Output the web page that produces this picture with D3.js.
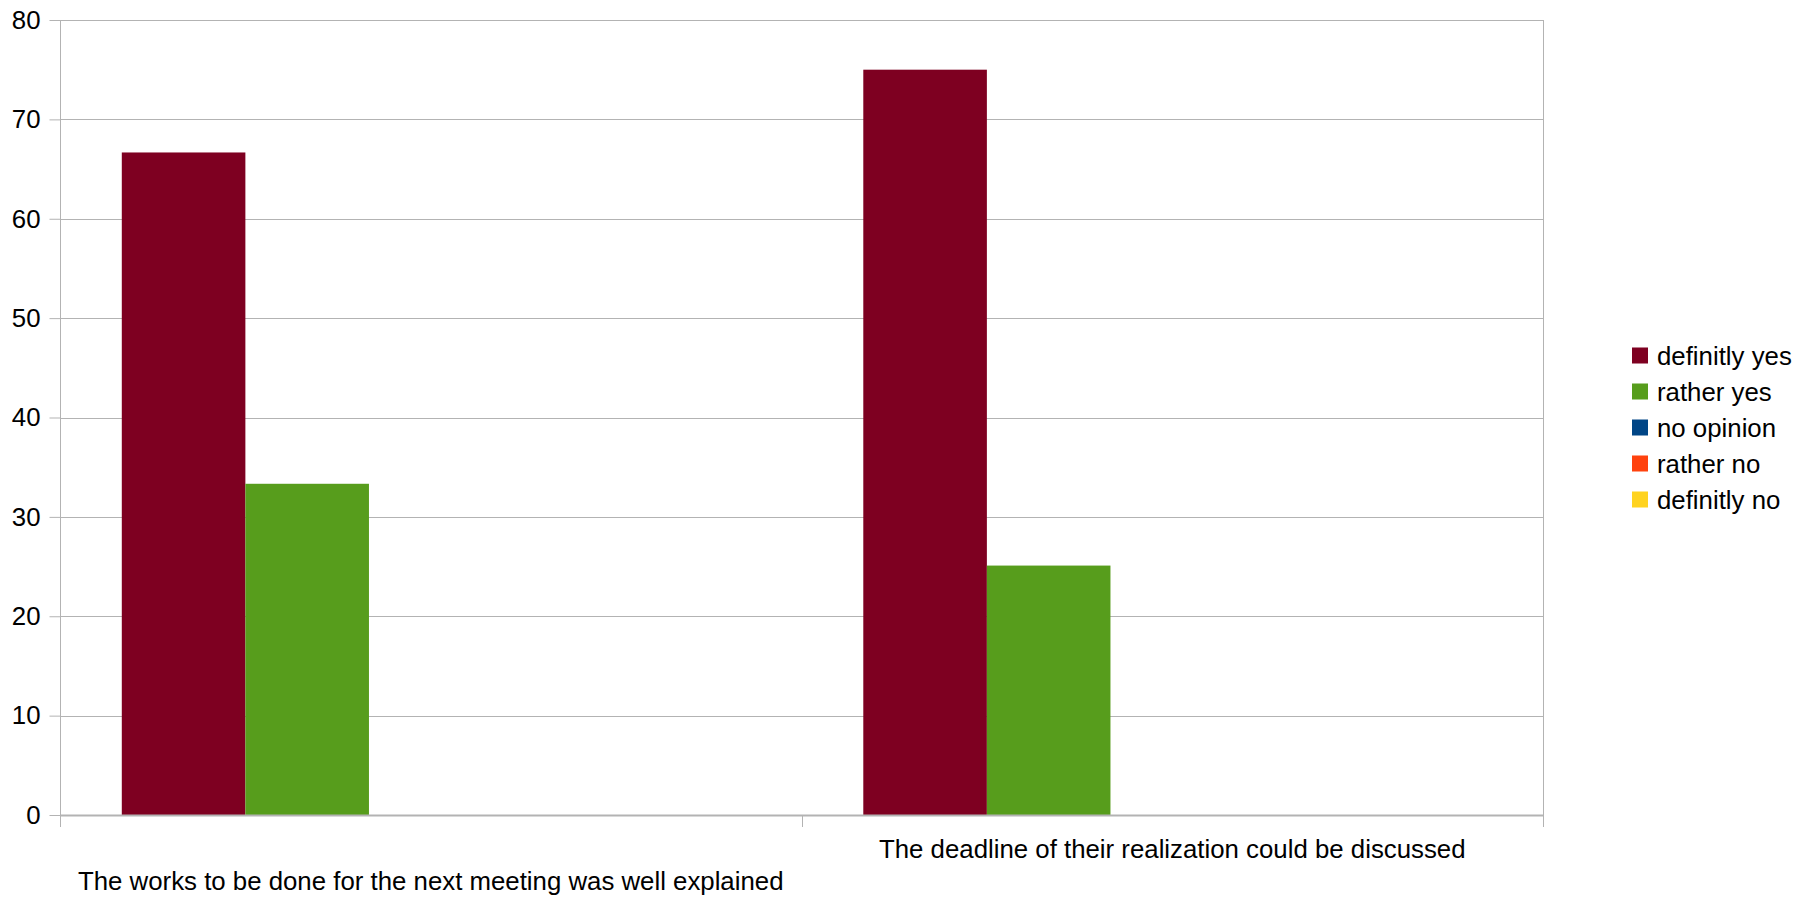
<!DOCTYPE html>
<html>
<head>
<meta charset="utf-8">
<script src="https://cdn.jsdelivr.net/npm/d3@7"></script>
<style>
html,body{margin:0;padding:0;background:#fff;}
svg{display:block;}
text{font-family:"Liberation Sans",Arial,sans-serif;fill:#000;}
</style>
</head>
<body>
<svg id="chart" width="1814" height="899"></svg>
<script>
const categories = [
  "The works to be done for the next meeting was well explained",
  "The deadline of their realization could be discussed"
];
const seriesNames = ["definitly yes", "rather yes", "no opinion", "rather no", "definitly no"];
const seriesColors = ["#7e0021", "#579d1c", "#004586", "#ff420e", "#ffd320"];
const definitlyYes = [66.67, 75];
const ratherYes = [33.33, 25.1];
const noOpinion = [0, 0];
const ratherNo = [0, 0];
const definitlyNo = [0, 0];
const yTicks = [0, 10, 20, 30, 40, 50, 60, 70, 80];

const seriesValues = [definitlyYes, ratherYes, noOpinion, ratherNo, definitlyNo];

const svg = d3.select("#chart");
const L = 60, R = 1543, T = 20, B = 815;
const grid = "#b3b3b3";
const FS = "25.8px";

const x0 = d3.scaleBand().domain(categories).range([L, R]).padding(0);
const bw = x0.bandwidth();
const x1 = d3.scaleBand().domain(seriesNames).range([bw / 12, bw * 11 / 12]).padding(0);
const y = d3.scaleLinear().domain([0, 80]).range([B, T]);
const color = d3.scaleOrdinal().domain(seriesNames).range(seriesColors);

// gridlines
svg.append("g").selectAll("line").data(yTicks).join("line")
  .attr("x1", L).attr("x2", R)
  .attr("y1", d => Math.round(y(d)) + 0.5).attr("y2", d => Math.round(y(d)) + 0.5)
  .attr("stroke", grid).attr("stroke-width", 1);

// right frame
svg.append("line").attr("x1", R + 0.5).attr("x2", R + 0.5).attr("y1", T).attr("y2", B + 12)
  .attr("stroke", grid);

// y axis
const yAxis = svg.append("g").attr("transform", `translate(${L + 0.5},0)`)
  .call(d3.axisLeft(y).tickValues(yTicks).tickSize(11).tickPadding(9).tickFormat(d3.format("d")));
yAxis.select(".domain").attr("stroke", grid).attr("d", `M0,${T}V${B + 12}`);
yAxis.selectAll(".tick line").attr("stroke", grid);
yAxis.selectAll(".tick text").style("font-size", FS).attr("fill", "#000")
  .attr("font-family", '"Liberation Sans",Arial,sans-serif');

// bars
const rows = [];
categories.forEach((c, ci) => {
  seriesNames.forEach((s, si) => rows.push({c, s, v: seriesValues[si][ci]}));
});
svg.append("g").selectAll("rect").data(rows).join("rect")
  .attr("x", d => x0(d.c) + x1(d.s))
  .attr("width", x1.bandwidth())
  .attr("y", d => y(d.v))
  .attr("height", d => y(0) - y(d.v))
  .attr("fill", d => color(d.s));

// x axis line
svg.append("line").attr("x1", L).attr("x2", R + 1).attr("y1", B + 0.5).attr("y2", B + 0.5)
  .attr("stroke", grid).attr("stroke-width", 2);

// x ticks at band boundaries
const bounds = categories.map(c => x0(c)).concat([R]);
svg.append("g").selectAll("line").data(bounds).join("line")
  .attr("x1", d => Math.round(d) + 0.5).attr("x2", d => Math.round(d) + 0.5)
  .attr("y1", B).attr("y2", B + 12).attr("stroke", grid);

// x labels (staggered)
const labelY = [890, 858];
svg.append("g").selectAll("text").data(categories).join("text")
  .attr("x", d => x0(d) + bw / 2)
  .attr("y", (d, i) => labelY[i % 2])
  .attr("text-anchor", "middle")
  .style("font-size", FS)
  .text(d => d);

// legend
const lg = svg.append("g");
seriesNames.forEach((s, i) => {
  const cy = 355.5 + i * 36;
  lg.append("rect").attr("x", 1632).attr("y", cy - 8).attr("width", 16).attr("height", 16)
    .attr("fill", color(s));
  lg.append("text").attr("x", 1657).attr("y", cy).attr("dy", "0.35em")
    .style("font-size", FS).text(s);
});
</script>
</body>
</html>
